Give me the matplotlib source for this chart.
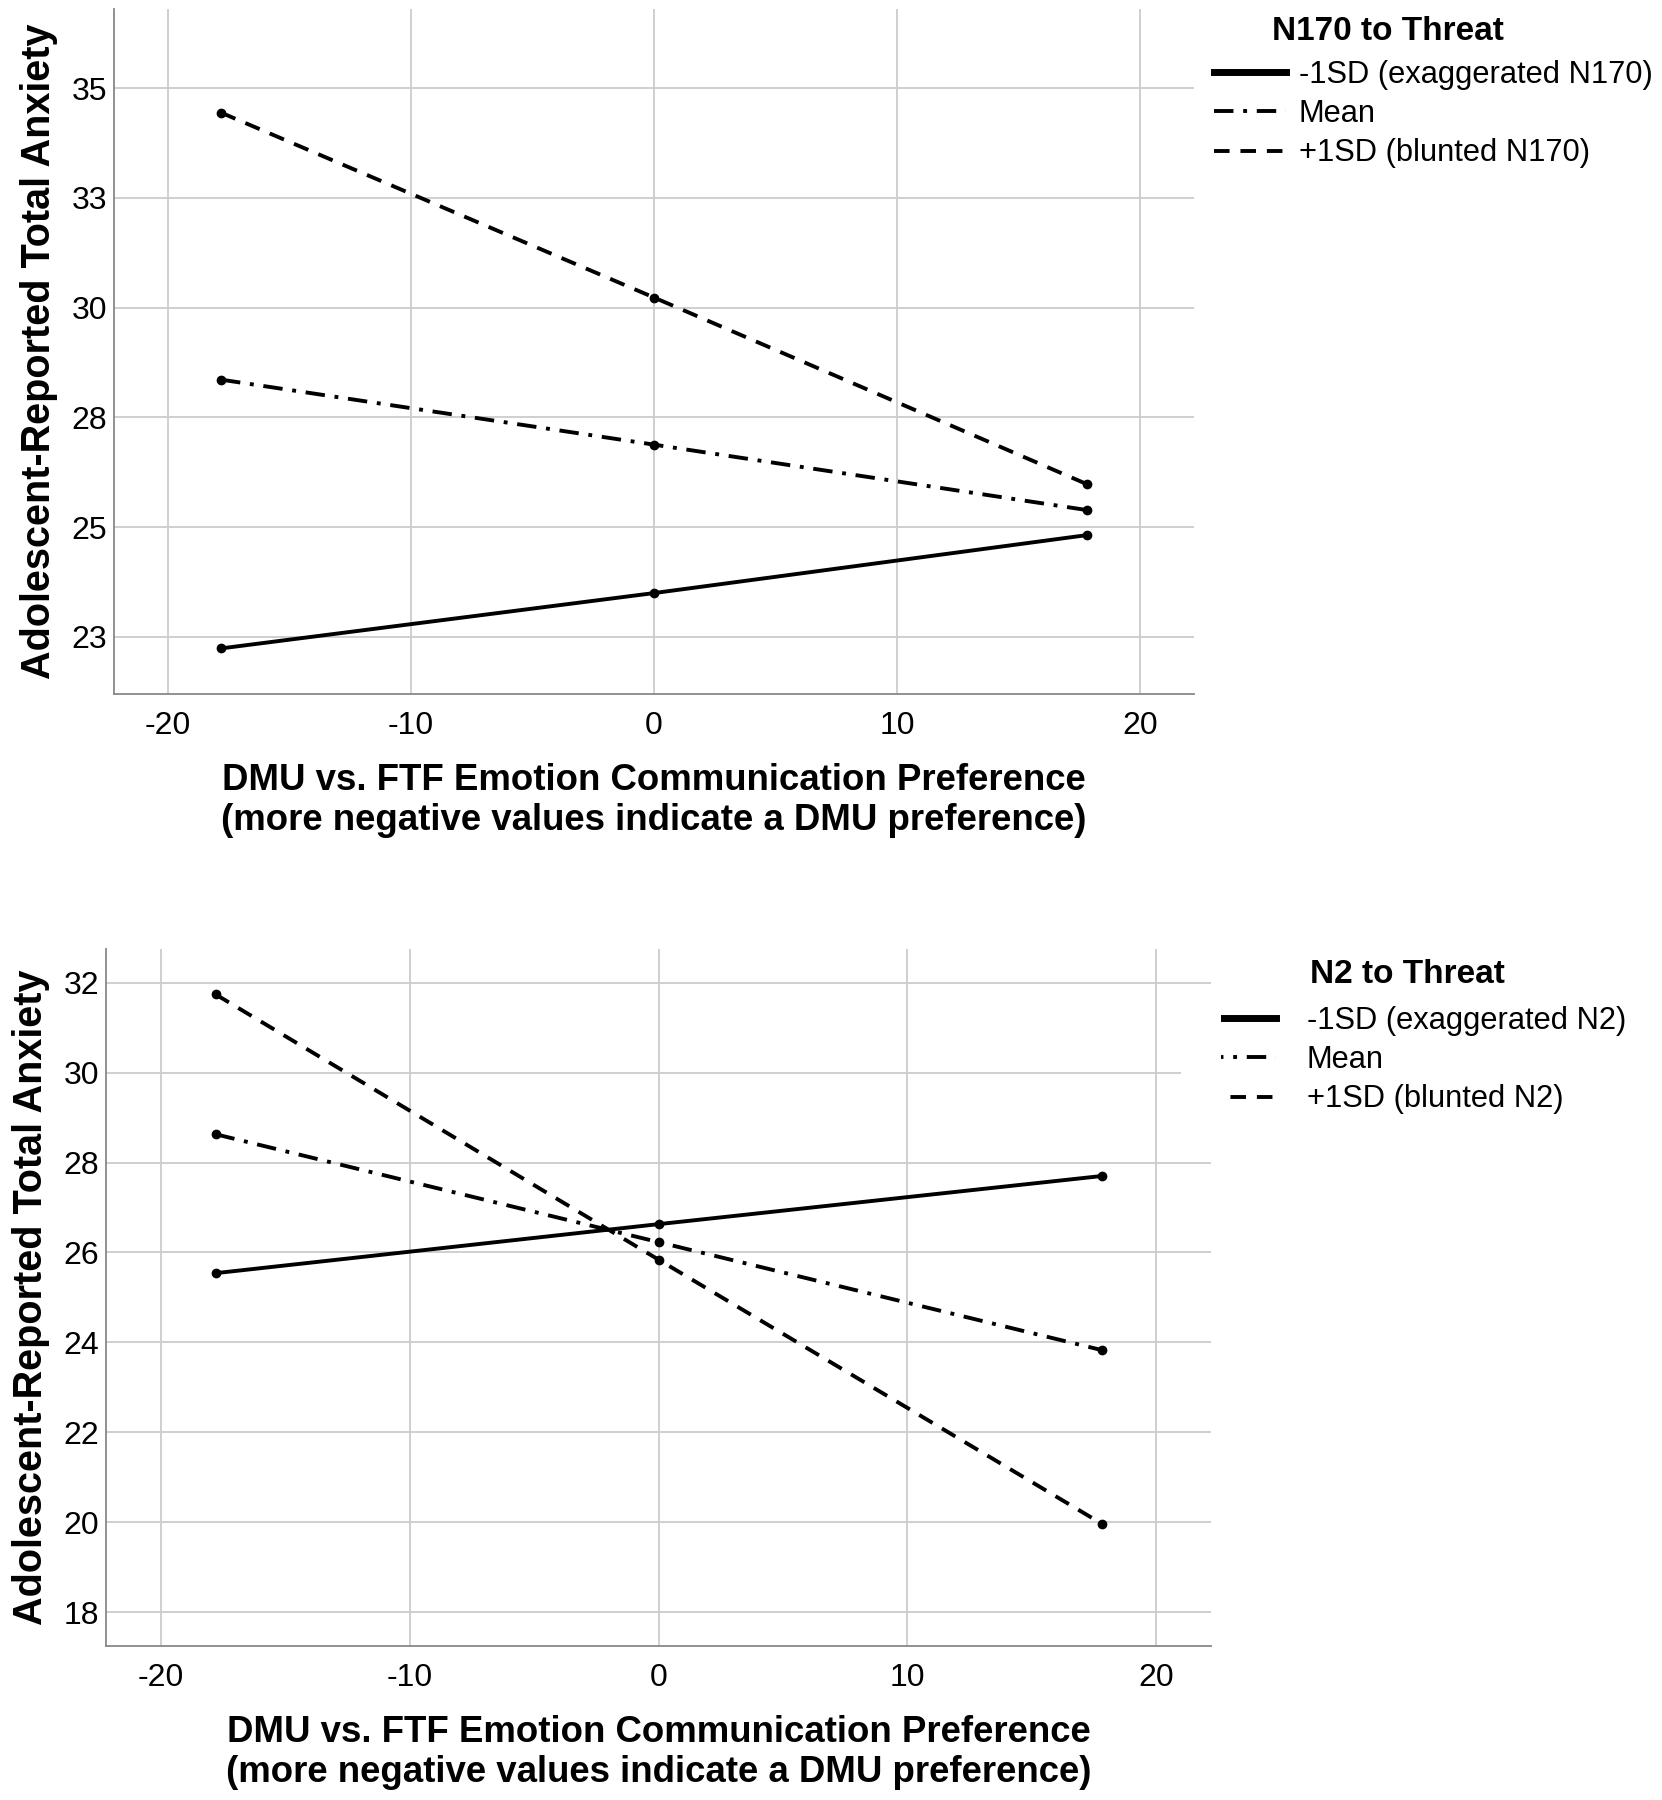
import matplotlib
matplotlib.use("Agg")
import matplotlib.pyplot as plt
from matplotlib.patches import Rectangle

# ──────────────────────────────────────────────
#  Datos
# ──────────────────────────────────────────────
x_pref = [-17.8, 0.0, 17.8]

# Panel superior: N170
n170_low = [22.24, 23.50, 24.82]    # -1SD (exaggerated)
n170_mean = [28.36, 26.88, 25.39]
n170_high = [34.44, 30.23, 25.98]   # +1SD (blunted)
n170_yticks = [22.5, 25, 27.5, 30, 32.5, 35]
n170_yticklabels = ["23", "25", "28", "30", "33", "35"]

# Panel inferior: N2
n2_low = [25.54, 26.63, 27.70]
n2_mean = [28.63, 26.23, 23.83]
n2_high = [31.74, 25.84, 19.97]
n2_yticks = [18, 20, 22, 24, 26, 28, 30, 32]
n2_yticklabels = ["18", "20", "22", "24", "26", "28", "30", "32"]

xticks = [-20, -10, 0, 10, 20]

ylabel = "Adolescent-Reported Total Anxiety"
xlabel = ("DMU vs. FTF Emotion Communication Preference\n"
          "(more negative values indicate a DMU preference)")

fuente = ["Liberation Sans", "DejaVu Sans"]
plt.rcParams["font.family"] = fuente

W, H = 1662, 1800
fig = plt.figure(figsize=(W / 100, H / 100), dpi=100)
ax1 = fig.add_axes([0.0686, 0.6144, 0.6498, 0.3806])
ax2 = fig.add_axes([0.0638, 0.0856, 0.6649, 0.3872])


def dibujar(ax, low, mean, high, yticks, yticklabels, ylim, etiqueta,
            leg_xy, textpad, ylab_x):
    estilos = [
        (low, "-", f"-1SD (exaggerated {etiqueta})"),
        (mean, (0, (5, 2.5, 1, 2.5)), "Mean"),
        (high, (0, (4, 2.8)), f"+1SD (blunted {etiqueta})"),
    ]
    for vals, ls, lab in estilos:
        ax.plot(x_pref, vals, linestyle=ls, color="black", lw=2.8,
                marker="o", markersize=6, label=lab, zorder=3)
    ax.set_xlim(-22.2, 22.2)
    ax.set_ylim(*ylim)
    ax.set_xticks(xticks)
    ax.set_xticklabels([str(t) for t in xticks], fontsize=23)
    ax.set_yticks(yticks)
    ax.set_yticklabels(yticklabels, fontsize=23)
    ax.tick_params(axis="x", length=0, pad=12)
    ax.tick_params(axis="y", length=0, pad=5)
    ax.grid(True, color="#cccccc", lw=1.3)
    ax.set_axisbelow(True)
    for s in ["top", "right"]:
        ax.spines[s].set_visible(False)
    for s in ["left", "bottom"]:
        ax.spines[s].set_color("#888888")
        ax.spines[s].set_linewidth(1.3)
    ax.set_ylabel(ylabel, fontsize=28.5, fontweight="bold")
    ax.yaxis.set_label_coords(ylab_x, 0.5)
    ax.set_xlabel(xlabel, fontsize=26.4, fontweight="bold",
                  labelpad=16, linespacing=1.2)
    leg = ax.legend(loc="upper left", bbox_to_anchor=(leg_xy[0] / W, 1 - leg_xy[1] / H),
                    bbox_transform=fig.transFigure, frameon=False, borderpad=0,
                    borderaxespad=0, fontsize=22.2, handlelength=2.35,
                    handletextpad=textpad, labelspacing=0.3)
    for h in leg.get_lines():
        h.set_marker("")
    leg.get_lines()[0].set_linewidth(5)
    return leg


dibujar(ax1, n170_low, n170_mean, n170_high, n170_yticks, n170_yticklabels,
        (21.2, 36.8), "N170", (1214, 60), 0.4, -0.0515)
dibujar(ax2, n2_low, n2_mean, n2_high, n2_yticks, n2_yticklabels,
        (17.25, 32.75), "N2", (1204, 1006), 0.98, -0.051)

# títulos de leyenda
fig.text(1388 / W, 1 - 31 / H, "N170 to Threat", ha="center", va="center",
         fontsize=24, fontweight="bold")
fig.text(1407 / W, 1 - 975 / H, "N2 to Threat", ha="center", va="center",
         fontsize=24, fontweight="bold")

# fondo blanco de la leyenda inferior que tapa parte de la rejilla
fig.patches.append(Rectangle((1181 / W, 1 - 1125 / H), 40 / W, 110 / H,
                             transform=fig.transFigure, facecolor="white",
                             edgecolor="none", zorder=2))

fig.savefig("out.png", dpi=100)
